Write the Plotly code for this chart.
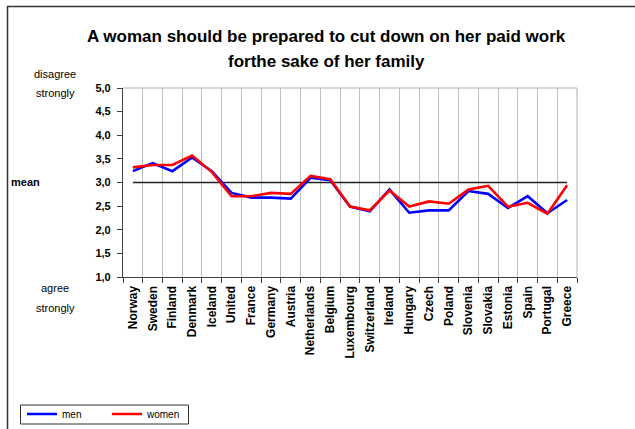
import plotly.graph_objects as go

countries = ["Norway", "Sweden", "Finland", "Denmark", "Iceland", "United", "France",
             "Germany", "Austria", "Netherlands", "Belgium", "Luxembourg", "Switzerland",
             "Ireland", "Hungary", "Czech", "Poland", "Slovenia", "Slovakia", "Estonia",
             "Spain", "Portugal", "Greece"]
men = [3.24, 3.41, 3.24, 3.53, 3.24, 2.78, 2.68, 2.68, 2.66, 3.10, 3.05, 2.49, 2.39,
       2.85, 2.36, 2.41, 2.41, 2.82, 2.76, 2.46, 2.71, 2.35, 2.63]
women = [3.32, 3.37, 3.37, 3.57, 3.22, 2.71, 2.71, 2.78, 2.76, 3.14, 3.07, 2.49, 2.41,
         2.83, 2.49, 2.60, 2.55, 2.85, 2.93, 2.49, 2.57, 2.34, 2.94]
mean_value = 3.0
y_ticks = [1.0, 1.5, 2.0, 2.5, 3.0, 3.5, 4.0, 4.5, 5.0]

W, H = 635, 429
L, R, T, B = 123, 577, 88, 277  # plot area pixel bounds


def px(x):
    return (x - L) / (R - L)


def py(y):
    return (B - y) / (B - T)


fig = go.Figure()
fig.add_trace(go.Scatter(x=countries, y=[mean_value] * len(countries), mode="lines",
                         line=dict(color="#222222", width=1.3), showlegend=False,
                         hoverinfo="skip"))
fig.add_trace(go.Scatter(x=countries, y=men, mode="lines", name="men",
                         line=dict(color="#0000ff", width=2.6)))
fig.add_trace(go.Scatter(x=countries, y=women, mode="lines", name="women",
                         line=dict(color="#ff0000", width=2.6)))

font = "Arial, Liberation Sans, sans-serif"


def note(text, x, y, size=11, bold=False, xanchor="center"):
    return dict(text=text, x=px(x), y=py(y), xref="paper", yref="paper",
                xanchor=xanchor, yanchor="middle", showarrow=False,
                font=dict(size=size, family=font, weight="bold" if bold else "normal"))


fig.update_layout(
    width=W, height=H,
    margin=dict(l=L, r=W - R, t=T, b=H - B, autoexpand=False),
    paper_bgcolor="white", plot_bgcolor="white",
    separators=",.",
    font=dict(family=font, color="black"),
    legend=dict(orientation="h", x=px(22), y=py(414), xanchor="left", yanchor="middle",
                borderwidth=0, font=dict(size=10, family=font),
                entrywidth=40, entrywidthmode="pixels", itemwidth=30,
                bgcolor="rgba(0,0,0,0)", tracegroupgap=0),
    xaxis=dict(type="category", tickson="boundaries", showgrid=True,
               gridcolor="#c0c0c0", gridwidth=1, showline=True, linecolor="#404040",
               linewidth=1.2, ticks="outside", ticklen=5, tickcolor="#404040",
               tickangle=-90, tickfont=dict(size=12, family=font, weight="bold"),
               ticklabelstandoff=3,
               range=[-0.5, len(countries) - 0.5], zeroline=False),
    yaxis=dict(range=[1, 5], tickvals=y_ticks, tickformat=".1f", showgrid=False,
               showline=True, linecolor="#404040", linewidth=1.2, ticks="outside",
               ticklen=5, tickcolor="#404040", ticklabelstandoff=4,
               tickfont=dict(size=11, family=font, weight="bold"), zeroline=False),
    shapes=[
        dict(type="line", xref="paper", yref="paper", x0=0, x1=1, y0=1, y1=1,
             line=dict(color="#b0b0b0", width=1)),
        dict(type="line", xref="paper", yref="paper", x0=1, x1=1, y0=0, y1=1,
             line=dict(color="#b0b0b0", width=1)),
        dict(type="line", xref="paper", yref="paper", x0=px(7), x1=px(640), y0=py(6.5),
             y1=py(6.5), line=dict(color="#333333", width=1.5)),
        dict(type="line", xref="paper", yref="paper", x0=px(7.5), x1=px(7.5), y0=py(6),
             y1=py(435), line=dict(color="#333333", width=1.5)),
        dict(type="rect", xref="paper", yref="paper", x0=px(20.5), x1=px(188.5),
             y0=py(405), y1=py(424), line=dict(color="#333333", width=1)),
    ],
    annotations=[
        note("A woman should be prepared to cut down on her paid work", 326, 36, 17, True),
        note("forthe sake of her family", 326, 62, 17, True),
        note("disagree", 55, 74),
        note("strongly", 55, 93),
        note("mean", 9, 182, bold=True, xanchor="left"),
        note("agree", 55, 288),
        note("strongly", 55, 308),
    ],
)

fig.write_html("out.html")
